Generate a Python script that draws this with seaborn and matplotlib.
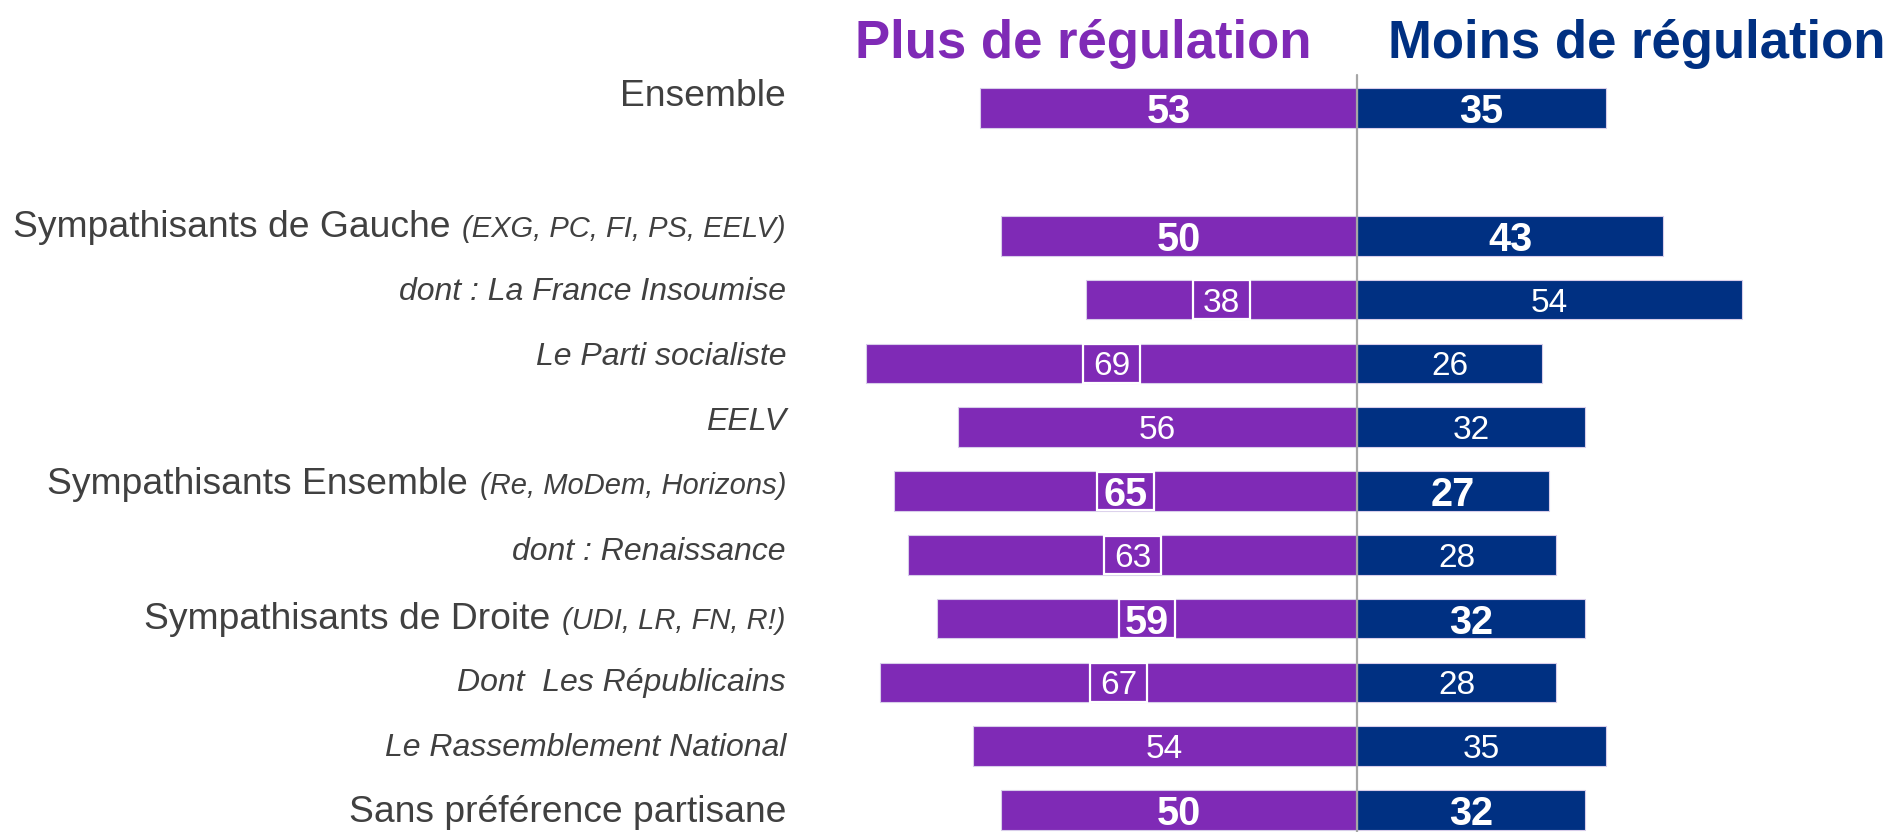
import matplotlib
matplotlib.use("Agg")
import matplotlib.pyplot as plt
import matplotlib.transforms as mtransforms
from matplotlib.patches import Rectangle
import pandas as pd
import seaborn as sns

# --- data ---
groups = ["Ensemble", " ", "Sympathisants de Gauche", "dont : La France Insoumise",
          "Le Parti socialiste", "EELV", "Sympathisants Ensemble", "dont : Renaissance",
          "Sympathisants de Droite", "Dont  Les Républicains", "Le Rassemblement National",
          "Sans préférence partisane"]
suffixes = {"Sympathisants de Gauche": "(EXG, PC, FI, PS, EELV)",
            "Sympathisants Ensemble": "(Re, MoDem, Horizons)",
            "Sympathisants de Droite": "(UDI, LR, FN, R!)"}
plus_values = [53, None, 50, 38, 69, 56, 65, 63, 59, 67, 54, 50]
moins_values = [35, None, 43, 54, 26, 32, 27, 28, 32, 28, 35, 32]
main_rows = ["Ensemble", "Sympathisants de Gauche", "Sympathisants Ensemble",
             "Sympathisants de Droite", "Sans préférence partisane"]
boxed_rows = ["dont : La France Insoumise", "Le Parti socialiste", "Sympathisants Ensemble",
              "dont : Renaissance", "Sympathisants de Droite", "Dont  Les Républicains"]
# small vertical shifts of the row labels, as in the original slide
label_shift = [-0.03, 0, 0.02, 0, 0.03, 0.05, 0.05, 0.08, 0.17, 0.14, 0.16, 0.19]

PURPLE = "#7f2ab6"
NAVY = "#003082"
GREY_TXT = "#404040"

rows = []
for g, p, m in zip(groups, plus_values, moins_values):
    if p is None:
        continue
    rows.append({"groupe": g, "camp": "Plus", "valeur": -p})
    rows.append({"groupe": g, "camp": "Moins", "valeur": m})
df = pd.DataFrame(rows)

sns.set_style("white")
plt.rcParams["font.family"] = ["Liberation Sans", "DejaVu Sans"]

fig = plt.figure(figsize=(18.96, 8.32), dpi=100)
ax = fig.add_axes([0.4153, 0.0, 0.5821, 1.0])

sns.barplot(data=df, y="groupe", x="valeur", hue="camp", order=groups,
            palette={"Plus": PURPLE, "Moins": NAVY}, dodge=False, width=0.62,
            saturation=1, orient="h", legend=False, edgecolor="#d8cdea",
            linewidth=0.8, ax=ax)

ax.set_xlim(-80, 75)
ax.set_ylim(11.345, -1.696)
ax.axis("off")

# centre line
ax.plot([0, 0], [-0.52, 11.345], color="#a6a6a6", lw=1.6, zorder=5)

# value labels
for i, (g, p, m) in enumerate(zip(groups, plus_values, moins_values)):
    if p is None:
        continue
    bold = g in main_rows
    fs = 28.5 if bold else 24
    fw = "bold" if bold else "normal"
    ax.text(-p / 2, i, str(p), color="white", fontsize=fs, fontweight=fw,
            ha="center", va="center_baseline", zorder=6)
    ax.text(m / 2, i, str(m), color="white", fontsize=fs, fontweight=fw,
            ha="center", va="center_baseline", zorder=6)
    if g in boxed_rows:
        ax.add_patch(Rectangle((-p / 2 - 4.0, i - 0.3), 8.0, 0.6, fill=False,
                               edgecolor="white", lw=1.6, zorder=6))

# row labels
fig.canvas.draw()
renderer = fig.canvas.get_renderer()
trans = mtransforms.blended_transform_factory(fig.transFigure, ax.transData)
x_right = 786 / 1896
for i, g in enumerate(groups):
    if not g.strip():
        continue
    y = i + label_shift[i]
    if g in main_rows:
        x = x_right
        if g in suffixes:
            t = ax.text(x, y, suffixes[g], transform=trans, ha="right", va="baseline",
                        fontsize=21, style="italic", color=GREY_TXT)
            bb = t.get_window_extent(renderer)
            x = (bb.x0 - 12) / fig.bbox.width
        ax.text(x, y, g, transform=trans, ha="right", va="baseline",
                fontsize=26.8, color=GREY_TXT)
    else:
        ax.text(x_right, y, g, transform=trans, ha="right", va="baseline",
                fontsize=23, style="italic", color=GREY_TXT)

# column headers
fig.text(1083 / 1896, 0.930, "Plus de régulation", ha="center", va="baseline",
         fontsize=38, fontweight="bold", color=PURPLE)
fig.text(1637 / 1896, 0.930, "Moins de régulation", ha="center", va="baseline",
         fontsize=38, fontweight="bold", color=NAVY)

fig.savefig("out.png", dpi=100)
